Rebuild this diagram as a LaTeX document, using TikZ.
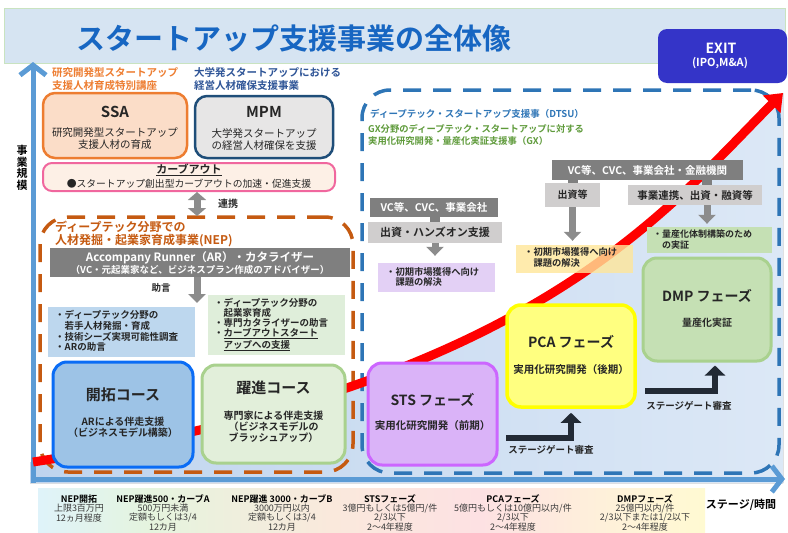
\documentclass[tikz,border=0pt]{standalone}
\usepackage{fontspec}
\setmainfont{Noto Sans CJK JP}[BoldFont={Noto Sans CJK JP Bold}]
\usetikzlibrary{arrows.meta,calc}
\newcommand{\fsz}[2]{\fontsize{#1}{#2}\selectfont}
\definecolor{bannerfill}{HTML}{D6E4F2}
\definecolor{bannerline}{HTML}{C9E3C0}
\definecolor{titleblue}{HTML}{1766C2}
\definecolor{exitblue}{HTML}{3434C8}
\definecolor{axisblue}{HTML}{5B9BD5}
\definecolor{regL}{HTML}{BFD4EE}
\definecolor{regR}{HTML}{DCE8F6}
\definecolor{hdorange}{HTML}{ED7D31}
\definecolor{hdnavy}{HTML}{2F5597}
\definecolor{ssafill}{HTML}{FBDDC8}
\definecolor{ssaline}{HTML}{ED7D31}
\definecolor{mpmfill}{HTML}{E7E6E6}
\definecolor{mpmline}{HTML}{1F4E79}
\definecolor{cofill}{HTML}{FDF0E6}
\definecolor{coline}{HTML}{F0679E}
\definecolor{arrgray}{HTML}{8C8C8C}
\definecolor{nepor}{HTML}{C55A11}
\definecolor{boxdark}{HTML}{7F7F7F}
\definecolor{boxlight}{HTML}{D0CECE}
\definecolor{bluelist}{HTML}{BDD7EE}
\definecolor{greenlist}{HTML}{DFEEDA}
\definecolor{kfill}{HTML}{9DC3E6}
\definecolor{kline}{HTML}{0A6CF5}
\definecolor{yfill}{HTML}{E2EFDA}
\definecolor{yline}{HTML}{A9D18E}
\definecolor{dtsublue}{HTML}{2E75B6}
\definecolor{gxgreen}{HTML}{5E9A3A}
\definecolor{purplist}{HTML}{E3D0F5}
\definecolor{yellist}{HTML}{FFE699}
\definecolor{dmpfill}{HTML}{C5E0B4}
\definecolor{pcafill}{HTML}{FFFF80}
\definecolor{pcaline}{HTML}{FFFF00}
\definecolor{stsfill}{HTML}{DAB3F8}
\definecolor{stsline}{HTML}{CC66FF}
\definecolor{sgdark}{HTML}{222A35}
\definecolor{tabtext}{HTML}{3A3A3A}
\definecolor{bodytext}{HTML}{262626}
\definecolor{tcA}{HTML}{DFF3FA}
\definecolor{tcB}{HTML}{E5F4DE}
\definecolor{tcC}{HTML}{FAE9DC}
\definecolor{tcD}{HTML}{FDE1E3}
\definecolor{tcE}{HTML}{FEF0DA}
\definecolor{tcF}{HTML}{FFFAD2}
\begin{document}
\begin{tikzpicture}[x=1pt,y=-1pt,
  txt/.style={inner sep=0pt,align=center,text=bodytext},
  bx/.style={rounded corners=12pt,line width=3pt,inner sep=0pt},
  flat/.style={inner sep=0pt},
  frame/.style={inner sep=0pt,line width=3.5pt,rounded corners=28pt,dash pattern=on 18pt off 12pt},
  garrow/.style={line width=7pt,draw=arrgray,-{Triangle[width=17pt,length=9pt]}},
  dblarr/.style={line width=7pt,draw=arrgray,{Triangle[width=18pt,length=8pt]}-{Triangle[width=18pt,length=8pt]}},
  stub/.style={draw=boxdark,line width=10pt},
  sgarrow/.style={line width=6pt,draw=sgdark,-{Triangle[width=20pt,length=10pt]}},
  tabh/.style={inner sep=0pt,align=center,font=\bfseries\fsz{9}{9},text=black},
  tabb/.style={inner sep=0pt,align=center,font=\fsz{9}{9},text=tabtext}
]
\path[use as bounding box] (0,0) rectangle (788,533);
\clip (0,0) rectangle (788,533);
% banner
\draw[draw=bannerline,fill=bannerfill,line width=1pt] (4,8) rectangle (785,63);
% region under curve
\fill[left color=regL,right color=regR] (30,483) -- (30,462) -- (33,462) .. controls (533,385) and (663,213) .. (783,93) -- (783,483) -- cycle;
% frames
\node[frame,draw=nepor,minimum width=313pt,minimum height=255pt] (nep) at (196.5,344.5) {};
\node[frame,draw=dtsublue,minimum width=417pt,minimum height=383pt] (dtsu) at (570.5,281.5) {};
% axes
\draw[line width=5pt,axisblue,-{Straight Barb[length=10pt,width=26pt]}] (33,483) -- (33,62);
\draw[line width=5pt,axisblue,-{Straight Barb[length=10pt,width=26pt]}] (31,479) -- (785,479);
\node[txt,font=\bfseries\fsz{11}{11.5},text=black] (yaxis) at (22,168) {事\\業\\規\\模};
% red growth arrow
\draw[line width=9pt,red,-{Triangle[width=24pt,length=16pt]}] (33,462) .. controls (533,385) and (663,213) .. (783,93);
% title + exit
\node[txt,anchor=west,text=titleblue,font=\bfseries\fsz{29}{29}] (title) at (76,38.5) {スタートアップ支援事業の全体像};
\node[flat,fill=exitblue,rounded corners=9pt,minimum width=129pt,minimum height=54pt] (exit) at (722.5,56) {};
\node[txt,text=white,font=\bfseries\fsz{14}{14}] (exitt) at (721,48) {EXIT};
\node[txt,text=white,font=\bfseries\fsz{11}{11}] (exitd) at (720,63.5) {(IPO,M\&A)};
% top-left headers
\node[txt,anchor=west,align=left,text=hdorange,font=\bfseries\fsz{10.5}{12.5}] (hdssa) at (52,79) {研究開発型スタートアップ\\支援人材育成特別講座};
\node[txt,anchor=west,align=left,text=hdnavy,font=\bfseries\fsz{10.5}{12.5}] (hdmpm) at (194,79) {大学発スタートアップにおける\\経営人材確保支援事業};
% SSA / MPM
\node[bx,draw=ssaline,fill=ssafill,line width=2.5pt,minimum width=144pt,minimum height=65pt] (ssa) at (115,125.5) {};
\node[txt,font=\bfseries\fsz{15}{15}] (ssat) at (115,112) {SSA};
\node[txt,font=\fsz{10.5}{12}] (ssad) at (115,139) {研究開発型スタートアップ\\支援人材の育成};
\node[bx,draw=mpmline,fill=mpmfill,line width=2.5pt,minimum width=138pt,minimum height=62pt] (mpm) at (264,127) {};
\node[txt,font=\bfseries\fsz{15}{15}] (mpmt) at (264,112) {MPM};
\node[txt,font=\fsz{10.5}{12}] (mpmd) at (264,139) {大学発スタートアップ\\の経営人材確保を支援};
% carve-out
\node[bx,rounded corners=9pt,draw=coline,fill=cofill,line width=2pt,minimum width=292pt,minimum height=28pt] (carve) at (189,177) {};
\node[txt,font=\bfseries\fsz{11}{11}] (carvet) at (189,170) {\underline{カーブアウト}};
\node[txt,font=\fsz{9.8}{10}] (carved) at (189,183.5) {●スタートアップ創出型カーブアウトの加速・促進支援};
\coordinate (rk) at (197,216);
\draw[dblarr] (carve.south -| rk) -- (rk);
\node[txt,font=\bfseries\fsz{10}{10}] (renkeiL) at (228,204) {連携};
% NEP
\node[txt,anchor=west,align=left,text=nepor,font=\bfseries\fsz{12}{13}] (neptitle) at (55,233.5) {ディープテック分野での\\人材発掘・起業家育成事業(NEP)};
\node[flat,fill=boxdark,minimum width=300pt,minimum height=29pt] (ar) at (200,262.5) {};
\node[txt,text=white,font=\bfseries\fsz{11.5}{11.5}] (art1) at (200,257.5) {Accompany Runner（AR）・カタライザー};
\node[txt,text=white,font=\bfseries\fsz{9.5}{9.5}] (art2) at (200,270) {（VC・元起業家など、ビジネスプラン作成のアドバイザー）};
\coordinate (adv) at (197,303);
\draw[garrow] (ar.south -| adv) -- (adv);
\node[txt,font=\bfseries\fsz{9.5}{9.5}] (jogen) at (161,288) {助言};
\node[flat,fill=bluelist,minimum width=147pt,minimum height=50pt] (blist) at (121.5,332) {};
\node[txt,anchor=west,align=left,font=\bfseries\fsz{9.5}{10.7}] (blistt) at (55,331) {・ディープテック分野の\\\hphantom{・}若手人材発掘・育成\\・技術シーズ実現可能性調査\\・ARの助言};
\node[flat,fill=greenlist,minimum width=137pt,minimum height=60pt] (glist) at (276.5,325) {};
\node[txt,anchor=west,align=left,font=\bfseries\fsz{9.5}{10.2}] (glistt) at (214,324.5) {・ディープテック分野の\\\hphantom{・}起業家育成\\・専門カタライザーの助言\\・\underline{カーブアウトスタート}\\\hphantom{・}\underline{アップへの支援}};
\node[bx,rounded corners=14pt,draw=kline,fill=kfill,minimum width=140pt,minimum height=105pt] (kaitaku) at (123,414.5) {};
\node[txt,font=\bfseries\fsz{15}{15}] (kaitakut) at (123,395) {開拓コース};
\node[txt,font=\bfseries\fsz{10}{11}] (kaitakud) at (123,427.5) {ARによる伴走支援\\（ビジネスモデル構築）};
\node[bx,rounded corners=14pt,draw=yline,fill=yfill,minimum width=143pt,minimum height=98pt] (yakushin) at (273.5,414) {};
\node[txt,font=\bfseries\fsz{15}{15}] (yakushint) at (273.5,388) {躍進コース};
\node[txt,font=\bfseries\fsz{10}{11}] (yakushind) at (273.5,427) {専門家による伴走支援\\（ビジネスモデルの\\ブラッシュアップ）};
% DTSU side
\node[txt,anchor=west,text=dtsublue,font=\bfseries\fsz{9.5}{9.5}] (dtsut) at (370,114) {ディープテック・スタートアップ支援事（DTSU）};
\node[txt,anchor=west,align=left,text=gxgreen,font=\bfseries\fsz{9.3}{12}] (gxt) at (368,135) {GX分野のディープテック・スタートアップに対する\\実用化研究開発・量産化実証支援事（GX）};
\node[flat,fill=boxdark,minimum width=191pt,minimum height=20pt,text=white,font=\bfseries\fsz{10.5}{10.5}] (vcR) at (647.5,170) {VC等、CVC、事業会社・金融機関};
\node[flat,fill=boxlight,minimum width=55pt,minimum height=24pt,text=bodytext,font=\bfseries\fsz{10}{10}] (shusshi) at (572.5,195) {出資等};
\node[flat,fill=boxlight,minimum width=134pt,minimum height=20pt,text=bodytext,font=\bfseries\fsz{10.5}{10.5}] (renkei2) at (695,195) {事業連携、出資・融資等};
\coordinate (r2top) at ([xshift=12pt]renkei2.north);
\coordinate (r2bot) at ([xshift=12pt]renkei2.south);
\draw[stub] (shusshi.north |- vcR.south) -- (shusshi.north);
\draw[stub] (r2top |- vcR.south) -- (r2top);
\node[flat,fill=boxdark,minimum width=128pt,minimum height=19pt,text=white,font=\bfseries\fsz{10.5}{10.5}] (vcL) at (434,207.5) {VC等、CVC、事業会社};
\node[flat,fill=boxlight,minimum width=134pt,minimum height=21pt,text=bodytext,font=\bfseries\fsz{11}{11}] (hands) at (435,232.5) {出資・ハンズオン支援};
\draw[stub] (hands.north |- vcL.south) -- (hands.north);
\node[flat,fill=purplist,minimum width=117pt,minimum height=29pt] (purp) at (436.5,277.5) {};
\node[txt,anchor=west,align=left,font=\bfseries\fsz{9.3}{10.3}] (purpt) at (386,277) {・初期市場獲得へ向け\\\hphantom{・}課題の解決};
\node[flat,fill=yellist,fill opacity=0.8,minimum width=117pt,minimum height=28pt] (yel) at (574.5,259) {};
\node[txt,anchor=west,align=left,font=\bfseries\fsz{9.3}{10.3}] (yelt) at (524,257.5) {・初期市場獲得へ向け\\\hphantom{・}課題の解決};
\node[flat,fill=dmpfill,minimum width=125pt,minimum height=26pt] (grn2) at (709.5,240) {};
\node[txt,anchor=west,align=left,font=\bfseries\fsz{9}{10.5}] (grn2t) at (653,239.5) {・量産化体制構築のため\\\hphantom{・}の実証};
\draw[garrow,shorten >=7pt] (hands.south) -- (hands.south |- purp.north);
\draw[garrow,shorten >=4pt] (shusshi.south) -- (shusshi.south |- yel.north);
\draw[garrow,shorten >=3pt] (r2bot) -- (r2bot |- grn2.north);
% phase boxes
\node[bx,rounded corners=14pt,draw=yline,fill=dmpfill,minimum width=128pt,minimum height=103pt] (dmp) at (707,309.5) {};
\node[txt,font=\bfseries\fsz{14}{14}] (dmpt) at (707,296) {DMP フェーズ};
\node[txt,font=\bfseries\fsz{10}{10}] (dmpd) at (707,323) {量産化実証};
\node[bx,rounded corners=14pt,draw=pcaline,fill=pcafill,line width=3.5pt,minimum width=128pt,minimum height=102pt] (pca) at (571,356) {};
\node[txt,font=\bfseries\fsz{14}{14}] (pcat) at (571,342) {PCA フェーズ};
\node[txt,font=\bfseries\fsz{10.5}{10.5}] (pcad) at (571,369.5) {実用化研究開発（後期）};
\node[bx,rounded corners=14pt,draw=stsline,fill=stsfill,minimum width=129pt,minimum height=102pt] (sts) at (432.5,414) {};
\node[txt,font=\bfseries\fsz{14}{14}] (stst) at (432.5,400) {STS フェーズ};
\node[txt,font=\bfseries\fsz{10.5}{10.5}] (stsd) at (432.5,426) {実用化研究開発（前期）};
% stage gate arrows
\coordinate (sg1) at (506,437.5);
\coordinate (pcain) at ([yshift=-4pt]pca.south);
\draw[sgarrow] (sg1) -| (pcain);
\node[txt,font=\bfseries\fsz{9.5}{9.5}] (sgl1) at (551,449.5) {ステージゲート審査};
\coordinate (sg2) at (645,391);
\coordinate (dmpin) at ([xshift=8pt,yshift=-3pt]dmp.south);
\draw[sgarrow] (sg2) -| (dmpin);
\node[txt,font=\bfseries\fsz{9.5}{9.5}] (sgl2) at (689,405.5) {ステージゲート審査};
% bottom table band
\shade[left color=tcA,right color=tcB] (38,488) rectangle (150,540);
\shade[left color=tcB,right color=tcC] (150,488) rectangle (330,540);
\shade[left color=tcC,right color=tcD] (330,488) rectangle (480,540);
\shade[left color=tcD,right color=tcE] (480,488) rectangle (600,540);
\shade[left color=tcE,right color=tcF] (600,488) rectangle (705,540);
\node[tabh] (c1h) at (79,499) {NEP開拓};
\node[tabb] (c1a) at (79,508.5) {上限3百万円};
\node[tabb] (c1b) at (79,518) {12ヵ月程度};
\node[tabh] (c2h) at (163,499) {NEP躍進500・カーブA};
\node[tabb] (c2a) at (163,508.5) {500万円未満};
\node[tabb] (c2b) at (163,518) {定額もしくは3/4};
\node[tabb] (c2c) at (163,527.5) {12カ月};
\node[tabh] (c3h) at (282,499) {NEP躍進 3000・カーブB};
\node[tabb] (c3a) at (282,508.5) {3000万円以内};
\node[tabb] (c3b) at (282,518) {定額もしくは3/4};
\node[tabb] (c3c) at (282,527.5) {12カ月};
\node[tabh] (c4h) at (390,499) {STSフェーズ};
\node[tabb] (c4a) at (390,508.5) {3億円もしくは5億円/件};
\node[tabb] (c4b) at (390,518) {2/3以下};
\node[tabb] (c4c) at (390,527.5) {2～4年程度};
\node[tabh] (c5h) at (513,499) {PCAフェーズ};
\node[tabb] (c5a) at (513,508.5) {5億円もしくは10億円以内/件};
\node[tabb] (c5b) at (513,518) {2/3以下};
\node[tabb] (c5c) at (513,527.5) {2～4年程度};
\node[tabh] (c6h) at (645,499) {DMPフェーズ};
\node[tabb] (c6a) at (645,508.5) {25億円以内/件};
\node[tabb] (c6b) at (645,518) {2/3以下または1/2以下};
\node[tabb] (c6c) at (645,527.5) {2～4年程度};
\node[txt,font=\bfseries\fsz{11}{11},text=black] (xaxis) at (741,505) {ステージ/時間};
\end{tikzpicture}
\end{document}
